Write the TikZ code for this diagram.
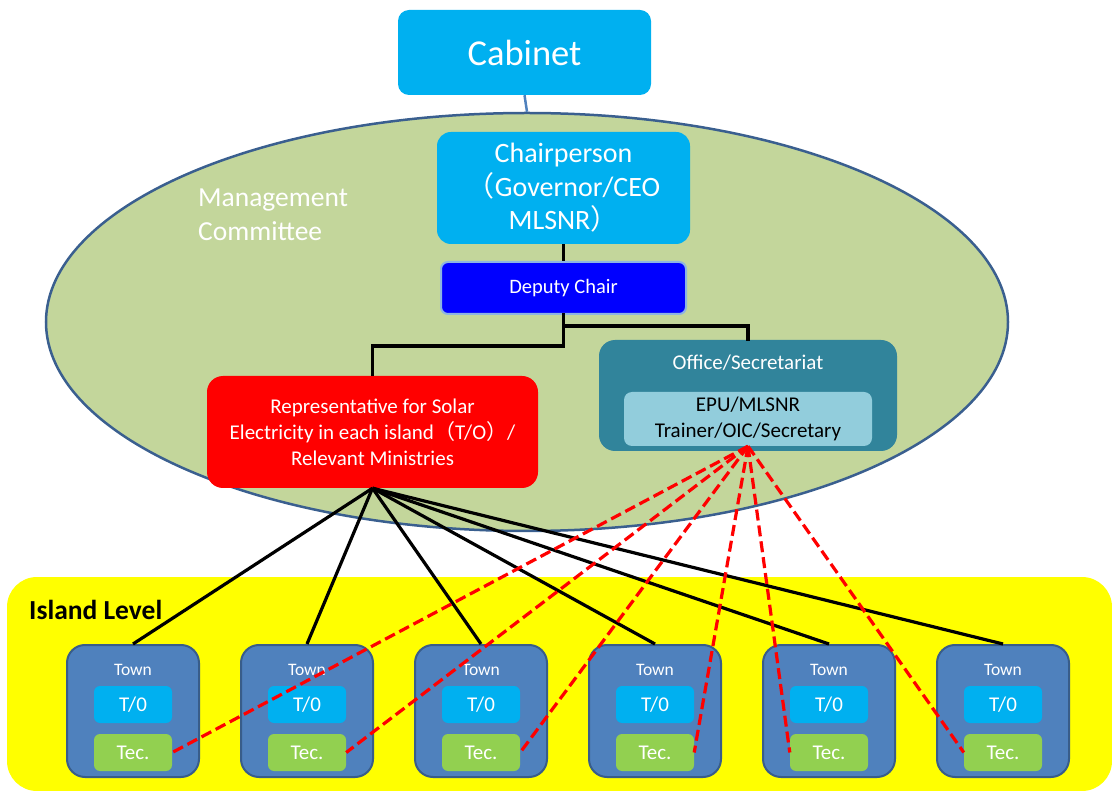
\documentclass[tikz,border=0pt]{standalone}
\usepackage{fontspec}
\setmainfont{Carlito}
\newfontfamily\cjk{Noto Sans CJK JP}
\usetikzlibrary{shapes.geometric}
\definecolor{skyb}{HTML}{00B0F0}
\definecolor{olive}{HTML}{C3D69B}
\definecolor{ellb}{HTML}{3A5F8F}
\definecolor{depb}{HTML}{0000FF}
\definecolor{depbd}{HTML}{8DB4E2}
\definecolor{redb}{HTML}{FF0000}
\definecolor{teal}{HTML}{31849B}
\definecolor{innerb}{HTML}{92CDDC}
\definecolor{yel}{HTML}{FFFF00}
\definecolor{townb}{HTML}{4F81BD}
\definecolor{townbd}{HTML}{385D8A}
\definecolor{tecg}{HTML}{92D050}
\tikzset{
  box/.style={rectangle, inner sep=0pt, align=center, text=white},
  conn/.style={line width=3.2pt, black},
  dashconn/.style={line width=3.2pt, redb, dash pattern=on 11pt off 5pt},
  townbox/.style={box, fill=townb, draw=townbd, line width=2pt, rounded corners=18pt, minimum width=132pt, minimum height=132pt},
  smallbox/.style={box, rounded corners=6pt, minimum width=78pt, minimum height=37pt, font=\fontsize{21}{24}\selectfont},
}
\begin{document}
\begin{tikzpicture}[x=1pt,y=-1pt]
\useasboundingbox (0,0) rectangle (1112,791);
% island level
\node[rectangle, fill=yel, rounded corners=30pt, minimum width=1105pt, minimum height=214pt, inner sep=0pt] (island) at (559.5,684) {};
\node[anchor=west, font=\bfseries\fontsize{27.5}{30}\selectfont, inner sep=0pt] (isl) at (29,610) {Island Level};
% management ellipse
\node[ellipse, fill=olive, draw=ellb, line width=2.5pt, minimum width=962pt, minimum height=418pt, inner sep=0pt] (mgmt) at (527,322) {};
\node[box, anchor=west, align=left, font=\fontsize{27.5}{34}\selectfont] (mc) at (198,215) {Management\\Committee};
% cabinet
\node[box, fill=skyb, rounded corners=11pt, minimum width=253pt, minimum height=85pt, font=\fontsize{36.5}{40}\selectfont] (cab) at (524.5,52.5) {Cabinet};
\draw[townb, line width=2.5pt] (cab.south) -- (mgmt.north);
% chair
\node[box, fill=skyb, rounded corners=14pt, minimum width=253pt, minimum height=112pt, font=\fontsize{28}{33.5}\selectfont] (chair) at (563.5,188) {Chairperson\\{\cjk （}Governor/CEO\\MLSNR{\cjk ）}};
\node[box, fill=depb, draw=depbd, line width=2pt, rounded corners=7pt, minimum width=245pt, minimum height=52pt, font=\fontsize{20.5}{24}\selectfont] (dep) at (563.5,288) {Deputy Chair};
% representative
\node[box, fill=redb, rounded corners=16pt, minimum width=331pt, minimum height=112pt, font=\fontsize{21}{26}\selectfont] (repo) at (372.5,432) {Representative for Solar\\Electricity in each island{\cjk （}T/O{\cjk ）}/\\Relevant Ministries};
% office
\node[box, fill=teal, rounded corners=16pt, minimum width=298pt, minimum height=111pt] (office) at (748,395.5) {};
\node[box, font=\fontsize{21}{24}\selectfont] (offt) at (748,363) {Office/Secretariat};
\node[box, fill=innerb, text=black, rounded corners=8pt, minimum width=248pt, minimum height=54pt, font=\fontsize{21}{26}\selectfont] (inner) at (748,419) {EPU/MLSNR\\Trainer/OIC/Secretary};
% connectors in committee
\draw[conn] (chair.south) -- (dep.north);
\draw[conn, line cap=rect] (dep.south) -- ++(0,11) -| (office.north);
\draw[conn] (dep.south) -- ++(0,31) -| (repo.north);
% towns
\foreach \i in {1,...,6}{
  \pgfmathsetmacro{\tx}{133+174*(\i-1)}
  \node[townbox] (town\i) at (\tx,711) {};
  \node[box, font=\fontsize{17.5}{20}\selectfont] (tl\i) at (\tx,670) {Town};
  \node[smallbox, fill=skyb] (to\i) at (\tx,704.5) {T/0};
  \node[smallbox, fill=tecg] (tec\i) at (\tx,752.5) {Tec.};
}
% black lines
\foreach \i in {1,...,6}{
  \draw[conn] (repo.south) -- (town\i.north);
}
% red dashed lines
\foreach \i in {1,...,4}{
  \draw[dashconn] (inner.south) -- (tec\i.east);
}
\foreach \i in {5,6}{
  \draw[dashconn] (inner.south) -- (tec\i.west);
}
\end{tikzpicture}
\end{document}
